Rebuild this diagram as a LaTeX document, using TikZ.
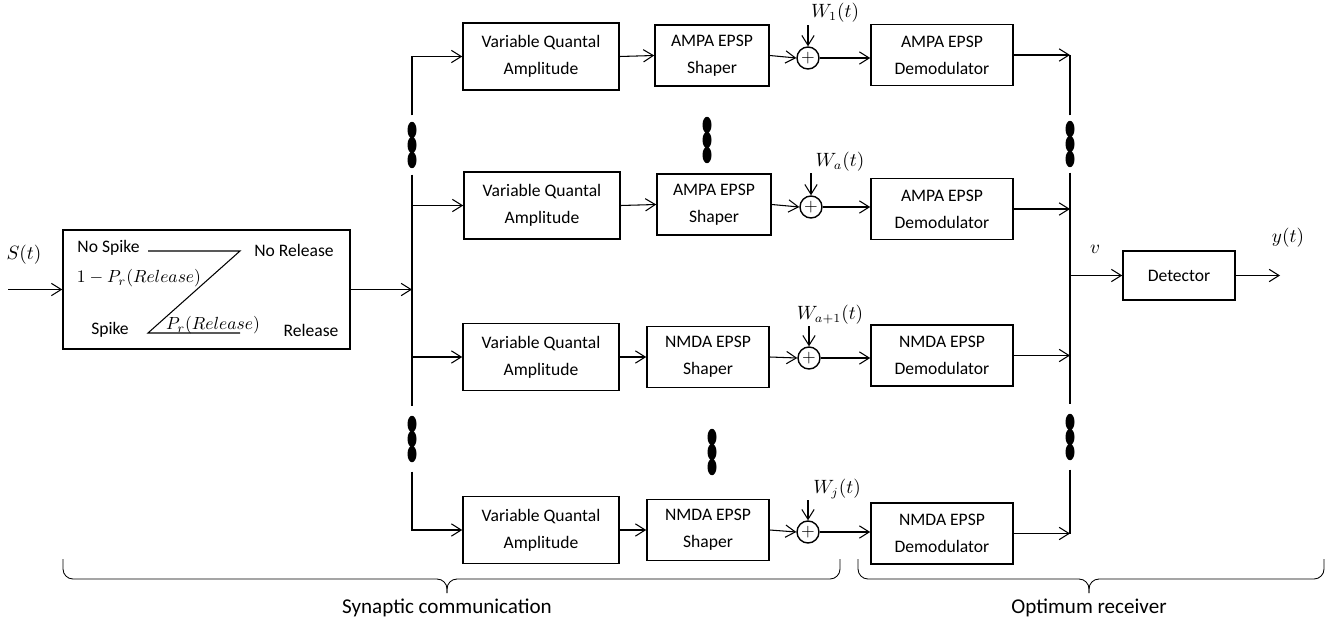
\documentclass[tikz,border=0pt]{standalone}
\usepackage{fontspec}
\setmainfont{Carlito}
\usetikzlibrary{arrows.meta}

\begin{document}
\begin{tikzpicture}[x=0.02cm,y=-0.02cm,line width=0.6pt,
  >={Straight Barb[length=5.6pt,width=7pt]},
  blk/.style={draw,line width=0.9pt,align=center,inner sep=1pt,font=\fontsize{10}{15.3}\selectfont},
  vqbox/.style={blk,minimum width=3.12cm,minimum height=1.34cm},
  shbox/.style={blk,minimum width=2.28cm,minimum height=1.22cm},
  dmbox/.style={blk,minimum width=2.84cm,minimum height=1.22cm},
  sum/.style={draw,circle,inner sep=0pt,minimum size=0.44cm,line width=0.8pt},
  dotbar/.style={inner sep=0pt,minimum width=0.2cm,minimum height=1.0cm},
  lbl/.style={font=\fontsize{10}{12}\selectfont},
  mlbl/.style={font=\fontsize{10.5}{12}\selectfont}]
\useasboundingbox (0,0) rectangle (1333,632);

\node[blk,minimum width=5.74cm,minimum height=2.38cm] (rel) at (206.5,289.5) {};
\node[lbl] (nspike) at (108.5,248) {No Spike};
\node[lbl] (nrelease) at (294,250) {No Release};
\node[lbl] (pnot) at (139,278) {$1-P_r(Release)$};
\node[lbl] (spike) at (110,330) {Spike};
\node[lbl] (prel) at (213,325) {$P_r(Release)$};
\node[lbl] (release) at (311,330) {Release};
\draw (148,251) -- (240,251) -- (148,333) -- (240,333);

\coordinate (sin) at (8,289.5);
\node[mlbl] (slbl) at (24,255) {$S(t)$};
\draw[->] (sin) -- (rel.west);

\node[vqbox] (vqa1) at (541,56.5) {Variable Quantal\\Amplitude};
\node[vqbox] (vqa2) at (542,205.5) {Variable Quantal\\Amplitude};
\node[vqbox] (vqa3) at (541,357) {Variable Quantal\\Amplitude};
\node[vqbox] (vqa4) at (541,530) {Variable Quantal\\Amplitude};

\node[shbox] (sh1) at (712,55.5) {AMPA EPSP\\Shaper};
\node[shbox] (sh2) at (714,204.5) {AMPA EPSP\\Shaper};
\node[shbox,minimum width=2.44cm] (sh3) at (708,357) {NMDA EPSP\\Shaper};
\node[shbox,minimum width=2.44cm] (sh4) at (708,530) {NMDA EPSP\\Shaper};

\node[sum] (add1) at (808,58) {$+$};
\node[sum] (add2) at (811,207) {$+$};
\node[sum] (add3) at (809,358) {$+$};
\node[sum] (add4) at (808,532) {$+$};

\node[dmbox] (dm1) at (942,55) {AMPA EPSP\\Demodulator};
\node[dmbox] (dm2) at (942,209) {AMPA EPSP\\Demodulator};
\node[dmbox] (dm3) at (942,355.5) {NMDA EPSP\\Demodulator};
\node[dmbox] (dm4) at (942,533.5) {NMDA EPSP\\Demodulator};

\node[blk,minimum width=2.24cm,minimum height=0.98cm] (det) at (1179,275.5) {Detector};

% noise inputs
\coordinate (n1) at (808,25);
\coordinate (n2) at (811,173);
\coordinate (n3) at (809,326);
\coordinate (n4) at (808,500);
\node[mlbl] (w1) at (835,13) {$W_1(t)$};
\node[mlbl] (w2) at (840,162) {$W_a(t)$};
\node[mlbl] (w3) at (830,315) {$W_{a+1}(t)$};
\node[mlbl] (w4) at (837,489) {$W_j(t)$};

% dots
\node[dotbar,minimum height=1.16cm] (ldA) at (412,145) {};
\node[dotbar,minimum height=1.28cm] (ldB) at (412,439) {};
\node[dotbar,minimum height=1.12cm] (rdA) at (1070,144) {};
\node[dotbar,minimum height=1.28cm] (rdB) at (1070,437) {};
\node[dotbar] (sdA) at (707,140) {};
\node[dotbar] (sdB) at (712,452) {};
\foreach \n in {ldA,ldB,rdA,rdB,sdA,sdB}
  \foreach \d in {-15,0,15}
    \fill (\n) ++(0,\d) ellipse [x radius=0.09cm,y radius=0.165cm];

% left bus
\draw[->] (rel.east) -- (rel.east -| ldA.south);
\draw[->] (ldA.north) |- (vqa1.west);
\draw (ldA.south) -- (ldB.north);
\draw[->] (ldB.south) |- (vqa4.west);
\draw[->] (ldA.south |- vqa2.west) -- (vqa2.west);
\draw[->] (ldA.south |- vqa3.west) -- (vqa3.west);

% rows
\draw[->] (vqa1.east) -- (sh1.west);
\draw[->] (vqa2.east) -- (sh2.west);
\draw[->] (vqa3.east) -- (sh3.west);
\draw[->] (vqa4.east) -- (sh4.west);
\draw[->] (sh1.east) -- (add1.west);
\draw[->] (sh2.east) -- (add2.west);
\draw[->] (sh3.east) -- (add3.west);
\draw[->] (sh4.east) -- (add4.west);
\draw[->] (n1) -- (add1.north);
\draw[->] (n2) -- (add2.north);
\draw[->] (n3) -- (add3.north);
\draw[->] (n4) -- (add4.north);
\draw[->] (add1.east) -- (add1.east -| dm1.west);
\draw[->] (add2.east) -- (add2.east -| dm2.west);
\draw[->] (add3.east) -- (add3.east -| dm3.west);
\draw[->] (add4.east) -- (add4.east -| dm4.west);

% right bus
\draw[->] (dm1.east) -- (dm1.east -| rdA.north);
\draw[->] (dm2.east) -- (dm2.east -| rdA.north);
\draw[->] (dm3.east) -- (dm3.east -| rdA.north);
\draw[->] (dm4.east) -- (dm4.east -| rdA.north);
\draw (rdA.north) -- (rdA.north |- dm1.east);
\draw (rdA.south) -- (rdB.north);
\draw (rdB.south) -- (rdB.south |- dm4.east);
\draw[->] (rdA.south |- det.west) -- (det.west);
\coordinate (yout) at (1280,275.5);
\draw[->] (det.east) -- (yout);
\node[mlbl] (vlbl) at (1095,249) {$v$};
\node[mlbl] (ylbl) at (1288,238) {$y(t)$};

% braces
\draw[line width=0.5pt,rounded corners=0.2cm] (63,559) |- (447,579) -- (447,593);
\draw[line width=0.5pt,rounded corners=0.2cm] (447,593) -- (447,579) -| (840,559);
\draw[line width=0.5pt,rounded corners=0.2cm] (858,559) |- (1089,579) -- (1089,593);
\draw[line width=0.5pt,rounded corners=0.2cm] (1089,593) -- (1089,579) -| (1324,559);
\node[font=\fontsize{12}{14}\selectfont] (syn) at (447,608) {Synaptic communication};
\node[font=\fontsize{12}{14}\selectfont] (opt) at (1089,608) {Optimum receiver};
\end{tikzpicture}
\end{document}
